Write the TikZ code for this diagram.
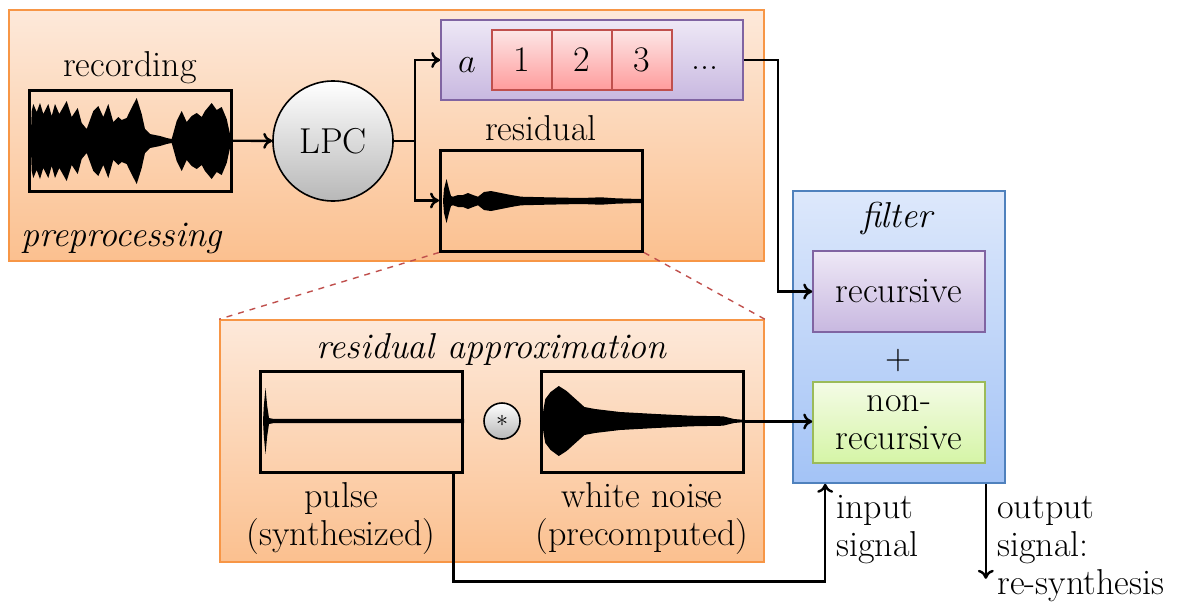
\documentclass[tikz,border=0pt]{standalone}
\usepackage{tikz}
\usetikzlibrary{shapes,arrows.meta}
\definecolor{orangeLine}{HTML}{F79646}
\definecolor{orangeTop}{HTML}{FDE9DA}
\definecolor{orangeBottom}{HTML}{FBC08F}
\definecolor{purpleLine}{HTML}{8064A2}
\definecolor{purpleTop}{HTML}{EEE8F6}
\definecolor{purpleBottom}{HTML}{C8B8E0}
\definecolor{redLine}{HTML}{C0504D}
\definecolor{redTop}{HTML}{FCE6E6}
\definecolor{redBottom}{HTML}{FF9C9C}
\definecolor{blueLine}{HTML}{4F81BD}
\definecolor{blueTop}{HTML}{DDE8FB}
\definecolor{blueBottom}{HTML}{A3C3F6}
\definecolor{greenLine}{HTML}{9BBB59}
\definecolor{greenTop}{HTML}{F4FBE6}
\definecolor{greenBottom}{HTML}{D5F5A6}
\tikzstyle{group} = [draw=orangeLine,rectangle,line width=0.8pt,top color=orangeTop,bottom color=orangeBottom]
\tikzstyle{waveBox} = [draw,rectangle,line width=1.5pt,minimum width=101pt,minimum height=50.5pt]
\tikzstyle{coeffBox} = [draw=purpleLine,rectangle,line width=0.8pt,top color=purpleTop,bottom color=purpleBottom]
\tikzstyle{cellBox} = [draw=redLine,rectangle,line width=0.8pt,top color=redTop,bottom color=redBottom,minimum width=30pt,minimum height=30pt]
\tikzstyle{filterBox} = [draw=blueLine,rectangle,line width=0.8pt,top color=blueTop,bottom color=blueBottom]
\tikzstyle{greenBox} = [draw=greenLine,rectangle,line width=0.8pt,top color=greenTop,bottom color=greenBottom,minimum width=86pt,minimum height=40.5pt,align=center]
\tikzstyle{roundBox} = [draw,circle,line width=0.8pt,top color=white,bottom color=black!28]
\tikzstyle{line} = [draw,line width=1.2pt]
\tikzstyle{arrowLine} = [draw,-{To[length=4.5pt,width=8pt]},line width=1.2pt]
\tikzstyle{zoomLine} = [draw=redLine,dashed,line width=0.7pt]
\tikzstyle{caption} = [align=center,inner sep=0pt]

\begin{document}
\begin{tikzpicture}[x=0.5pt,y=-0.5pt,font=\fontsize{18}{19}\selectfont]
		\useasboundingbox (0,0) rectangle (1181,605);
		%groups
		\node[group,minimum width=377.5pt,minimum height=125.5pt](preprocessing) at (386.5,135.5){};
		\node[group,minimum width=272pt,minimum height=121pt](approx) at (492,441){};
		\node[filterBox,minimum width=106pt,minimum height=146pt](filter) at (899,337){};
		\node[caption,anchor=west](preprocessingLabel) at (21,238){\textit{preprocessing}};
		\node[caption](approxLabel) at (492,349){\textit{residual approximation}};
		\node[caption](filterLabel) at (898,218){\textit{filter}};
		%preprocessing
		\node[caption](recordingLabel) at (130,68){recording};
		\node[waveBox](recording) at (130,140.5){};
		\node[roundBox,minimum size=60pt](lpc) at (333,141){LPC};
		\node[coeffBox,minimum width=151pt,minimum height=40pt](coeffs) at (592,60){};
		\node[caption](coeffA) at (467,65){$a$};
		\node[cellBox](cellOne) at (522,60){1};
		\node[cellBox](cellTwo) at (582,60){2};
		\node[cellBox](cellThree) at (642,60){3};
		\node[caption](coeffDots) at (705,68){...};
		\node[caption](residualLabel) at (541,128){residual};
		\node[waveBox](residual) at (541.5,200.5){};
		%residual approximation
		\node[waveBox](pulse) at (361,421.5){};
		\node[roundBox,minimum size=18pt,inner sep=0pt,font=\large](conv) at (502,421){$\ast$};
		\node[waveBox](noise) at (642,421.5){};
		\node[caption](pulseLabel) at (341,518){pulse\\(synthesized)};
		\node[caption](noiseLabel) at (642,518){white noise\\(precomputed)};
		%filter
		\node[coeffBox,minimum width=86pt,minimum height=40.5pt](recursive) at (899,291.5){recursive};
		\node[caption](plus) at (898,361){+};
		\node[greenBox](nonRecursive) at (899,422.5){non-\\recursive};
		\node[caption,align=left,anchor=west](inputLabel) at (836,530){input\\signal};
		\node[caption,align=left,anchor=north west](outputLabel) at (997,496){output\\signal:\\re-synthesis};
		%waveforms
		\begin{scope}[shift={(29,141)}]
			\foreach \s in {1,-1}
				\fill[yscale=\s] plot coordinates {(1.7,0)(2.7,30)(4.3,37)(7.7,29)(11,38)(14.3,27)(19.3,37)(22.7,25)(26,37)(30.3,27)(37.7,40)(42.7,24)(48.7,33)(52.7,18)(57.7,12)(64.3,30)(69.3,35)(74.3,24)(79.3,37)(84.3,19)(89.3,24)(92.7,21)(97.7,23)(101,30)(107.7,43)(112.7,27)(116,12)(121,7)(131,5)(137.7,3)(142.7,2)(147.7,20)(152.7,30)(157.7,19)(162.7,25)(167.7,28)(172.7,24)(176,30)(182.7,38)(187.7,31)(192.7,34)(197.7,22)(201,7)(201.7,0)} -- cycle;
		\end{scope}
		\begin{scope}[shift={(441,201)}]
			\foreach \s in {1,-1}
				\fill[yscale=\s] plot coordinates {(2,0)(3,12)(5.5,22)(8,12)(10,5)(12,4.3)(17,6)(22,6)(27,8)(32,6)(37,4.3)(43,9)(50,10)(60,8)(70,6)(80,4.3)(105,3.7)(140,3)(160,3.7)(175,2.7)(192,2.2)(201,2.2)(201,0)} -- cycle;
		\end{scope}
		\begin{scope}[shift={(260,421)}]
			\foreach \s in {1,-1}
				\fill[yscale=\s] plot coordinates {(3,0)(3.8,15)(5.5,33)(7.2,15)(9,3)(13,2.2)(204,2.2)(204,0)} -- cycle;
		\end{scope}
		\begin{scope}[shift={(541,421)}]
			\foreach \s in {1,-1}
				\fill[yscale=\s] plot coordinates {(1,0)(2.5,12)(4.3,22)(9.6,29)(17.8,35)(25.6,30)(34.5,22)(43.4,14)(54,12)(79,9)(115,7)(150,5.3)(182,4.7)(193,2)(202,1.2)(202,0)} -- cycle;
		\end{scope}
		%arrows
		\coordinate(split) at (415,141);
		\coordinate(coeffBend) at (778,60);
		\path[arrowLine](recording)--(lpc);
		\path[line](lpc)--(split);
		\path[arrowLine](split)|-(coeffs);
		\path[arrowLine](split)|-(residual);
		\path[arrowLine](coeffs)--(coeffBend)|-(recursive);
		\path[zoomLine](residual.south west)--(approx.north west);
		\path[zoomLine](residual.south east)--(approx.north east);
		\path[arrowLine](noise.east)--(noise.east -| nonRecursive.west);
		\path[arrowLine]([xshift=-5pt]pulse.south east)--++(0,108)-|([xshift=16.5pt]filter.south west);
		\path[arrowLine]([xshift=-10pt]filter.south east)--++(0,95);
	\end{tikzpicture}
\end{document}
